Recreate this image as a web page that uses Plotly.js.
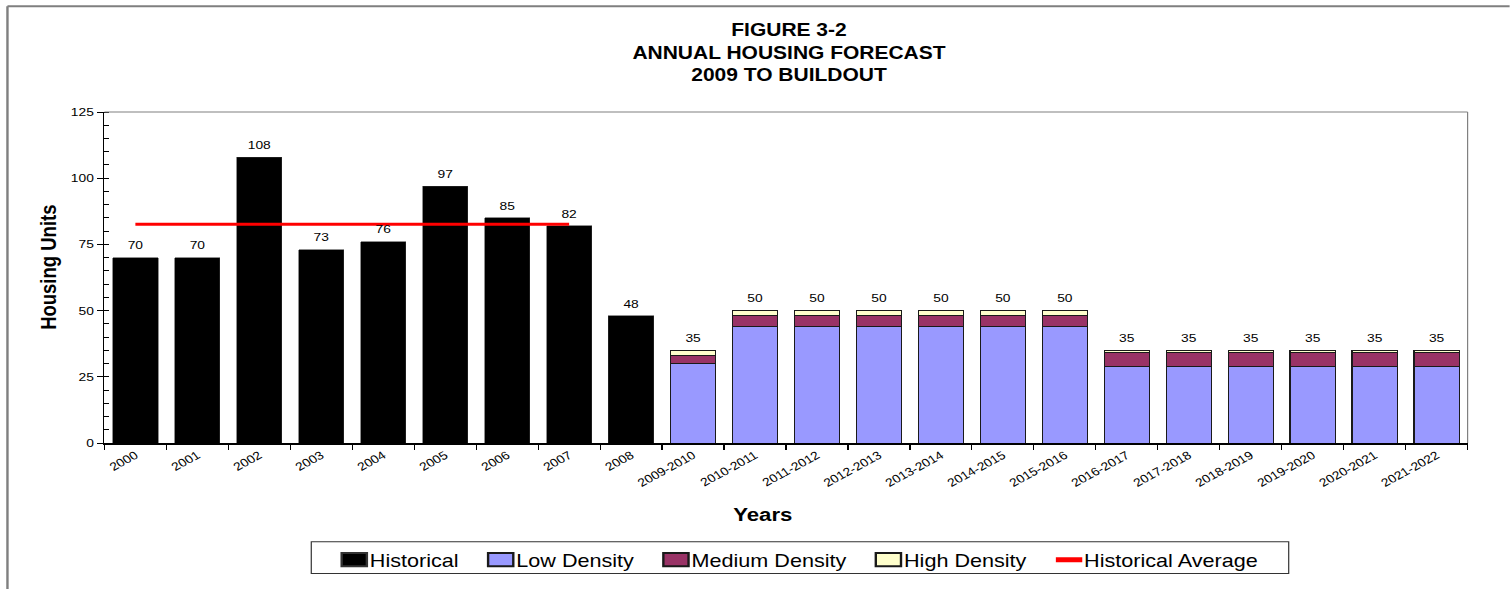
<!DOCTYPE html>
<html>
<head>
<meta charset="utf-8">
<script src="https://cdn.plot.ly/plotly-3.0.1.min.js"></script>
<style>
  html, body { margin: 0; padding: 0; background: #ffffff; overflow: hidden; }
  #chart { transform-origin: 0 0; }
</style>
</head>
<body>
<div id="chart"></div>
<script>
// ---- data ----
const historicalYears = ['2000', '2001', '2002', '2003', '2004', '2005', '2006', '2007', '2008'];
const historicalUnits = [70, 70, 108, 73, 76, 97, 85, 82, 48];

const forecastPeriods = ['2009-2010', '2010-2011', '2011-2012', '2012-2013', '2013-2014',
  '2014-2015', '2015-2016', '2016-2017', '2017-2018', '2018-2019', '2019-2020',
  '2020-2021', '2021-2022'];
const lowDensity    = [30, 44, 44, 44, 44, 44, 44, 29, 29, 29, 29, 29, 29];
const mediumDensity = [3, 4, 4, 4, 4, 4, 4, 5, 5, 5, 5, 5, 5];
const highDensity   = [2, 2, 2, 2, 2, 2, 2, 1, 1, 1, 1, 1, 1];

const averageSpan = ['2000', '2007'];
const historicalAverage = 82.6;

const allCategories = historicalYears.concat(forecastPeriods);
const yTicks = [0, 25, 50, 75, 100, 125];

// ---- page geometry (the drawing is widened horizontally by STRETCH) ----
const STRETCH = 1.2;
const PAGE_W = 1510, PAGE_H = 589;
const PLOT_L = 104, PLOT_R = 1468, PLOT_T = 112, PLOT_B = 444;
const W = PAGE_W / STRETCH;

const chartDiv = document.getElementById('chart');
chartDiv.style.width = W + 'px';
chartDiv.style.height = PAGE_H + 'px';
chartDiv.style.transform = 'scaleX(' + STRETCH + ')';

const FONT = '"Liberation Sans", Arial, Helvetica, sans-serif';

// paper coordinates from page pixels
const px = x => (x - PLOT_L) / (PLOT_R - PLOT_L);
const py = y => (PLOT_B - y) / (PLOT_B - PLOT_T);

const forecastTotals = forecastPeriods.map((_, i) => lowDensity[i] + mediumDensity[i] + highDensity[i]);
const columnTotals = historicalUnits.concat(forecastTotals);

const segLine = { color: '#1a1a1a', width: 1 };

const traces = [
  {
    type: 'bar', name: 'Historical', x: historicalYears, y: historicalUnits,
    marker: { color: '#000000', line: { color: '#333333', width: 0.5 } }
  },
  {
    type: 'bar', name: 'Low Density', x: forecastPeriods, y: lowDensity,
    marker: { color: '#9999FF', line: segLine }
  },
  {
    type: 'bar', name: 'Medium Density', x: forecastPeriods, y: mediumDensity,
    marker: { color: '#993366', line: segLine }
  },
  {
    type: 'bar', name: 'High Density', x: forecastPeriods, y: highDensity,
    marker: { color: '#FFFFCC', line: segLine }
  },
  {
    type: 'scatter', mode: 'lines', name: 'Historical Average',
    x: averageSpan, y: [historicalAverage, historicalAverage],
    line: { color: '#FF0000', width: 3 }
  },
  {
    // value labels above each column (invisible markers set the gap)
    type: 'scatter', mode: 'markers+text', showlegend: false, hoverinfo: 'skip',
    x: allCategories,
    y: columnTotals,
    text: columnTotals.map(String),
    textposition: 'top center',
    marker: { size: 7, color: 'rgba(0,0,0,0)' },
    textfont: { family: FONT, size: 11.5, color: '#000000' },
    cliponaxis: false
  }
];

const greyFrame = { color: '#808080', width: 1 };
const outerFrame = { color: '#7f7f7f', width: 2 };
const titleFont = { family: FONT, size: 18.5, color: '#000000' };

const layout = {
  width: W,
  height: PAGE_H,
  margin: {
    l: PLOT_L / STRETCH,
    r: (PAGE_W - PLOT_R) / STRETCH,
    t: PLOT_T,
    b: PAGE_H - PLOT_B,
    pad: 0
  },
  paper_bgcolor: '#ffffff',
  plot_bgcolor: 'rgba(0,0,0,0)',
  font: { family: FONT, color: '#000000' },
  barmode: 'stack',
  bargap: 0.27,
  showlegend: true,
  title: {
    text: '<b>FIGURE 3-2<br>ANNUAL HOUSING FORECAST<br>2009 TO BUILDOUT</b>',
    font: { family: FONT, size: 17.5, color: '#000000' },
    x: px(789), xref: 'paper', xanchor: 'center',
    y: 1 - 36 / PAGE_H, yref: 'container', yanchor: 'middle'
  },
  xaxis: {
    type: 'category',
    categoryorder: 'array',
    categoryarray: allCategories,
    range: [-0.5, allCategories.length - 0.5],
    tickson: 'boundaries',
    ticks: 'outside', ticklen: 5, tickwidth: 1, tickcolor: '#000000',
    showline: true, linecolor: '#000000', linewidth: 1.5,
    showgrid: false, zeroline: false,
    tickangle: -33,
    tickfont: { family: FONT, size: 11.5, color: '#000000' },
    automargin: false
  },
  yaxis: {
    range: [0, 125],
    tickmode: 'array', tickvals: yTicks, ticktext: yTicks.map(String),
    ticks: 'outside', ticklen: 5, tickwidth: 1, tickcolor: '#000000',
    minor: { dtick: 5, ticks: 'inside', ticklen: 4, tickwidth: 1, tickcolor: '#000000', showgrid: false },
    showline: true, linecolor: '#000000', linewidth: 1.5,
    showgrid: false, zeroline: false,
    tickfont: { family: FONT, size: 11.5, color: '#000000' },
    automargin: false
  },
  annotations: [
    // axis titles
    {
      text: '<b>Years</b>', font: titleFont, showarrow: false,
      xref: 'paper', yref: 'paper', x: px(763), y: py(516),
      xanchor: 'center', yanchor: 'middle'
    },
    {
      text: '<b>Housing Units</b>', font: titleFont, showarrow: false, textangle: -90,
      xref: 'paper', yref: 'paper', x: px(48), y: py(268),
      xanchor: 'center', yanchor: 'middle'
    }
  ],
  legend: {
    orientation: 'h',
    x: px(318), xanchor: 'left',
    y: py(560), yanchor: 'middle',
    bgcolor: 'rgba(0,0,0,0)',
    borderwidth: 0,
    itemwidth: 33,
    font: { family: FONT, size: 18, color: '#000000' },
    traceorder: 'normal',
    itemsizing: 'constant'
  },
  shapes: [
    // plot area top and right edges
    { type: 'line', xref: 'paper', yref: 'paper', x0: 0, x1: 1, y0: 1, y1: 1, line: greyFrame },
    { type: 'line', xref: 'paper', yref: 'paper', x0: 1, x1: 1, y0: 0, y1: 1, line: greyFrame },
    // legend box
    { type: 'rect', xref: 'paper', yref: 'paper', layer: 'below',
      x0: px(311), x1: px(1289), y0: py(543), y1: py(575),
      line: { color: '#333333', width: 1 }, fillcolor: '#ffffff' },
    // outer chart frame
    { type: 'line', xref: 'paper', yref: 'paper', x0: px(7), x1: px(1515), y0: py(6), y1: py(6), line: outerFrame },
    { type: 'line', xref: 'paper', yref: 'paper', x0: px(7), x1: px(7), y0: py(6), y1: py(600), line: outerFrame }
  ]
};

Plotly.newPlot(chartDiv, traces, layout, { displayModeBar: false, staticPlot: true }).then(gd => {
  // wider legend keys that sit right against their labels
  gd.querySelectorAll('.legend path.legendbar, .legend path.legendundefined').forEach(p => {
    const m = /translate\(\s*([-\d.]+)/.exec(p.getAttribute('transform') || '');
    const cx = m ? parseFloat(m[1]) : 0;
    p.setAttribute('transform', 'translate(' + (cx + 8.5) + ',0) scale(1.75,1.1)');
    p.setAttribute('vector-effect', 'non-scaling-stroke');
  });
  gd.querySelectorAll('.legend .legendlines path').forEach(p => {
    p.setAttribute('d', 'M19.5,0h22');
  });
});
</script>
</body>
</html>
